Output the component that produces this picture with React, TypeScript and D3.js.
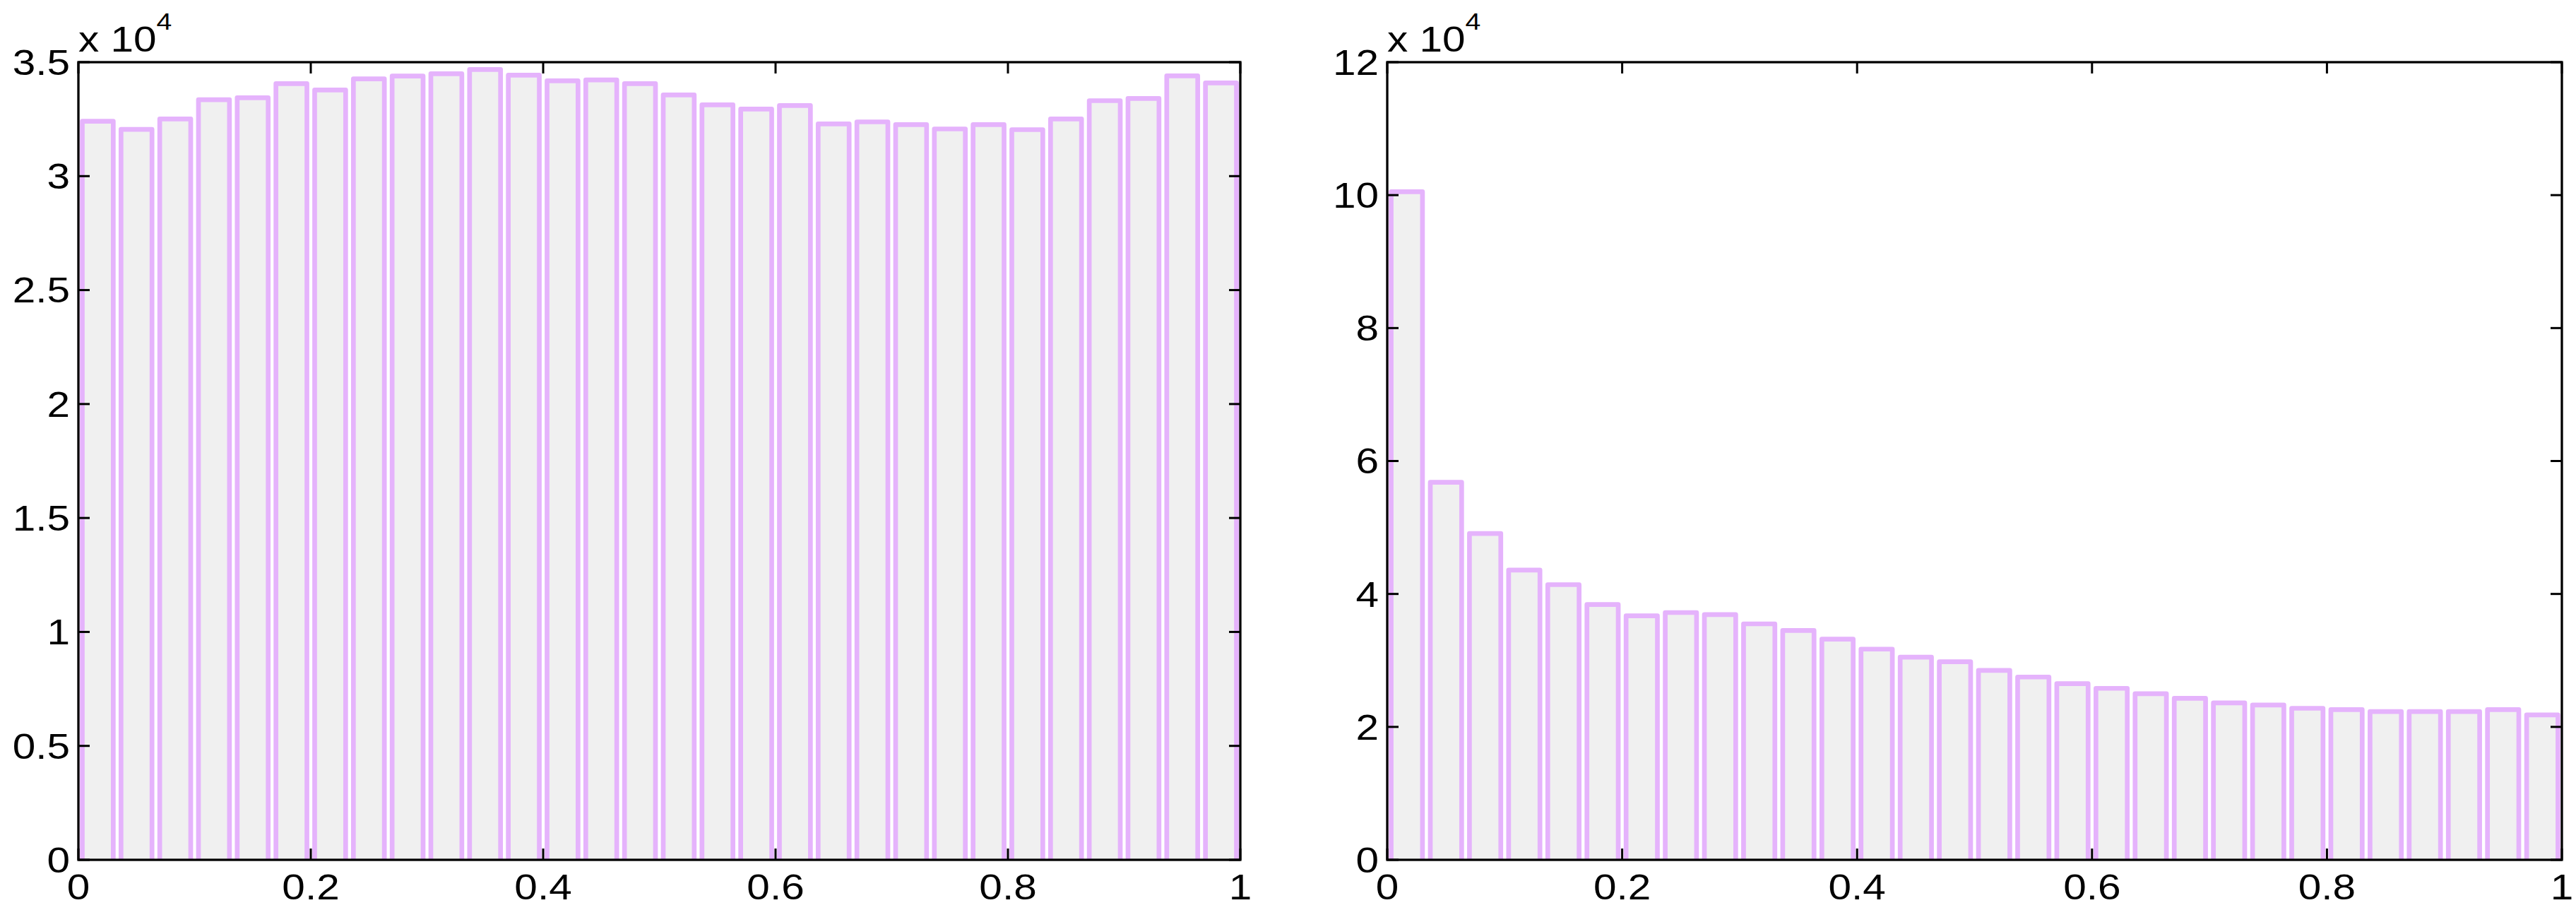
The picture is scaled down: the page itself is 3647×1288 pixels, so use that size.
import React from 'react';
import * as d3 from 'd3';

// Histogram counts (30 bins on [0,1])
const leftCounts = [32410, 32050, 32510, 33350, 33440, 34060, 33780, 34270, 34390, 34490, 34680, 34430, 34180, 34220, 34060, 33560, 33130, 32940, 33100, 32290, 32380, 32260, 32070, 32260, 32040, 32510, 33310, 33410, 34400, 34090];
const rightCounts = [100500, 56800, 49100, 43600, 41400, 38400, 36700, 37200, 36900, 35500, 34500, 33200, 31700, 30500, 29800, 28500, 27500, 26500, 25800, 25000, 24300, 23600, 23300, 22800, 22600, 22300, 22300, 22300, 22600, 21800];
const xTicks = [0, 0.2, 0.4, 0.6, 0.8, 1];
const xTickLabels = ['0', '0.2', '0.4', '0.6', '0.8', '1'];
const leftYTicks = [0, 0.5, 1, 1.5, 2, 2.5, 3, 3.5];
const leftYTickLabels = ['0', '0.5', '1', '1.5', '2', '2.5', '3', '3.5'];
const rightYTicks = [0, 2, 4, 6, 8, 10, 12];
const rightYTickLabels = ['0', '2', '4', '6', '8', '10', '12'];
const nBins = 30;

const W = 3647;
const H = 1288;
const FONT = "'Liberation Sans', Arial, Helvetica, sans-serif";
const FS = 50;
const SX = 1.17;
const BAR_STROKE = '#E5B3FC';
const BAR_FILL = '#F0F0F0';

function Label({ x, y, anchor, fs, children }: { x: number; y: number; anchor: string; fs: number; children: React.ReactNode }) {
  return (
    <g transform={`translate(${x},${y}) scale(${SX},1)`}>
      <text x={0} y={0} textAnchor={anchor} fontSize={fs} fontFamily={FONT} fill="#000">
        {children}
      </text>
    </g>
  );
}

type PanelProps = {
  id: string;
  left: number;
  right: number;
  top: number;
  bottom: number;
  counts: number[];
  yTicks: number[];
  yTickLabels: string[];
  yMax: number;
};

function Panel({ id, left, right, top, bottom, counts, yTicks, yTickLabels, yMax }: PanelProps) {
  const x = d3.scaleLinear().domain([0, 1]).range([left, right]);
  const y = d3.scaleLinear().domain([0, yMax]).range([bottom, top]);
  const binW = 1 / nBins;
  const barW = 0.8 * binW;
  const tickLen = 16;
  const scale = 1e4;
  return (
    <g>
      <defs>
        <clipPath id={id}>
          <rect x={left} y={top} width={right - left} height={bottom - top} />
        </clipPath>
      </defs>
      <g clipPath={`url(#${id})`}>
        {counts.map((c, i) => {
          const cx = (i + 0.5) * binW;
          const x0 = x(cx - barW / 2);
          const x1 = x(cx + barW / 2);
          const y0 = y(c / scale);
          return (
            <rect
              key={i}
              x={x0}
              y={y0}
              width={x1 - x0}
              height={y(0) - y0 + 10}
              fill={BAR_FILL}
              stroke={BAR_STROKE}
              strokeWidth={6.7}
              strokeLinejoin="round"
            />
          );
        })}
      </g>
      {xTicks.map((t, i) => (
        <g key={'xt' + i}>
          <line x1={x(t)} x2={x(t)} y1={bottom} y2={bottom - tickLen} stroke="#000" strokeWidth={3} />
          <line x1={x(t)} x2={x(t)} y1={top} y2={top + tickLen} stroke="#000" strokeWidth={3} />
          <Label x={x(t)} y={bottom + 56} anchor="middle" fs={FS}>
            {xTickLabels[i]}
          </Label>
        </g>
      ))}
      {yTicks.map((t, i) => (
        <g key={'yt' + i}>
          <line x1={left} x2={left + tickLen} y1={y(t)} y2={y(t)} stroke="#000" strokeWidth={3} />
          <line x1={right} x2={right - tickLen} y1={y(t)} y2={y(t)} stroke="#000" strokeWidth={3} />
          <Label x={left - 12} y={y(t) + 0.358 * FS} anchor="end" fs={FS}>
            {yTickLabels[i]}
          </Label>
        </g>
      ))}
      <rect x={left} y={top} width={right - left} height={bottom - top} fill="none" stroke="#000" strokeWidth={3.3} />
      <Label x={left} y={top - 15} anchor="start" fs={FS}>
        x 10
        <tspan dy={-31} fontSize={33.5}>4</tspan>
      </Label>
    </g>
  );
}

export default function App() {
  return (
    <svg
      width={W}
      height={H}
      style={{ position: 'absolute', left: 0, top: 0, background: '#fff' }}
      xmlns="http://www.w3.org/2000/svg"
    >
      <rect x={0} y={0} width={W} height={H} fill="#fff" />
      <Panel
        id="clipL"
        left={111}
        right={1756}
        top={88}
        bottom={1217}
        counts={leftCounts}
        yTicks={leftYTicks}
        yTickLabels={leftYTickLabels}
        yMax={3.5}
      />
      <Panel
        id="clipR"
        left={1964}
        right={3627}
        top={88}
        bottom={1217}
        counts={rightCounts}
        yTicks={rightYTicks}
        yTickLabels={rightYTickLabels}
        yMax={12}
      />
    </svg>
  );
}
